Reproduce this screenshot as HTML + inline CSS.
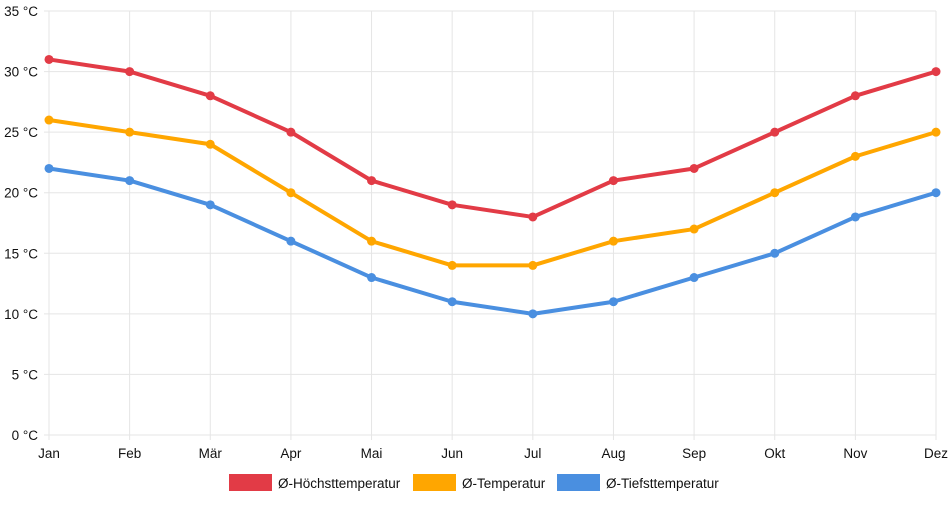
<!DOCTYPE html>
<html><head><meta charset="utf-8">
<style>
body{margin:0;background:#fff;font-family:"Liberation Sans",sans-serif;}
svg text{font-family:"Liberation Sans",sans-serif;font-size:13.5px;fill:#111;}
</style></head>
<body>
<svg id="chart" width="952" height="500"></svg>
<script>
const months=["Jan","Feb","Mär","Apr","Mai","Jun","Jul","Aug","Sep","Okt","Nov","Dez"];
const maxTemps=[31,30,28,25,21,19,18,21,22,25,28,30];
const avgTemps=[26,25,24,20,16,14,14,16,17,20,23,25];
const minTemps=[22,21,19,16,13,11,10,11,13,15,18,20];
const yTicks=[0,5,10,15,20,25,30,35];
const seriesNames=["Ø-Höchsttemperatur","Ø-Temperatur","Ø-Tiefsttemperatur"];
const colors=["#e23b46","#ffa600","#4a8fe0"];

const svg=document.getElementById('chart');
const NS='http://www.w3.org/2000/svg';
const x0=49,x1=936,y0=435,y1=11;
const xs=i=>x0+i*(x1-x0)/(months.length-1);
const ys=v=>y0-(v/35)*(y0-y1);
function mk(t,a,p){const e=document.createElementNS(NS,t);for(const k in a)e.setAttribute(k,a[k]);(p||svg).appendChild(e);return e;}

const grid=mk('g',{});


yTicks.forEach(v=>{
  mk('line',{x1:44,x2:x1,y1:ys(v),y2:ys(v),stroke:'#e5e5e5'},grid);
  const t=mk('text',{x:38,y:ys(v)+5,'text-anchor':'end'});
  t.textContent=v+' °C';
  
  
});
months.forEach((m,i)=>{
  mk('line',{x1:xs(i),x2:xs(i),y1:y1,y2:y0+5,stroke:'#e5e5e5'},grid);
  const t=mk('text',{x:xs(i),y:458,'text-anchor':'middle'});
  t.textContent=m;
  
  
});

[maxTemps,avgTemps,minTemps].forEach((d,s)=>{
  const g=mk('g',{});
  
  
  mk('polyline',{points:d.map((v,i)=>xs(i)+','+ys(v)).join(' '),fill:'none',stroke:colors[s],'stroke-width':4,'stroke-linejoin':'round'},g);
  d.forEach((v,i)=>{
    const c=mk('circle',{cx:xs(i),cy:ys(v),r:4.5,fill:colors[s]},g);
    
    
  });
});

const lx=[229,413,557];
seriesNames.forEach((n,s)=>{
  const g=mk('g',{});
  
  
  mk('rect',{x:lx[s],y:474,width:43,height:17,fill:colors[s]},g);
  const t=mk('text',{x:lx[s]+49,y:488},g);
  t.textContent=n;
});
</script>
</body></html>
